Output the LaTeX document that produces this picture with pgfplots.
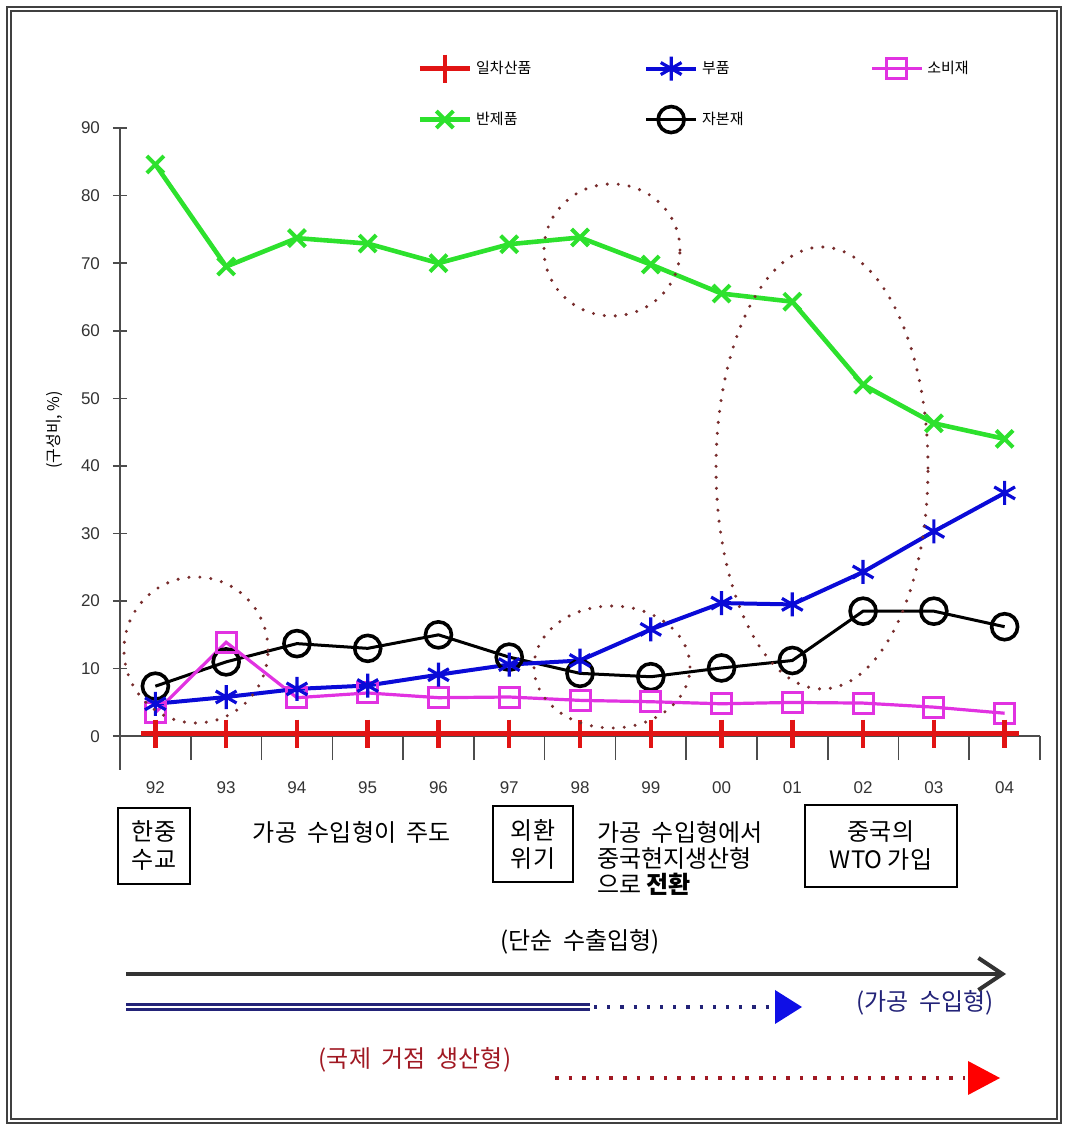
\documentclass[border=0pt]{standalone}
\usepackage{fontspec}
\setmainfont{Liberation Sans}
\newfontfamily\kr{Noto Sans CJK KR}
\usepackage{pgfplots}
\pgfplotsset{compat=1.18}
\usetikzlibrary{arrows.meta}

\definecolor{cred}{RGB}{225,20,20}
\definecolor{cblue}{RGB}{10,10,215}
\definecolor{cmag}{RGB}{225,50,225}
\definecolor{cgreen}{RGB}{45,225,45}
\definecolor{cring}{RGB}{120,45,45}
\definecolor{cnavy}{RGB}{35,35,120}
\definecolor{ctxtred}{RGB}{160,25,35}
\definecolor{cfill}{RGB}{15,15,230}

\pgfplotsset{
  primary/.style={color=cred, line width=2.2pt, mark=+, mark size=7pt, mark options={line width=2.2pt}},
  parts/.style={color=cblue, line width=2pt, mark=asterisk, mark size=6pt, mark options={line width=1.6pt}},
  consumer/.style={color=cmag, line width=1.6pt, mark=square, mark size=5pt, mark options={line width=1.5pt}},
  semi/.style={color=cgreen, line width=2.3pt, mark=x, mark size=6pt, mark options={line width=2pt}},
  capital/.style={color=black, line width=1.5pt, mark=o, mark size=6.5pt, mark options={line width=1.8pt}},
}

\begin{document}
\begin{tikzpicture}[x=0.5pt,y=0.5pt]
\useasboundingbox (0,0) rectangle (1067,1128);
% outer double frame
\draw[black!75, line width=0.7pt, double=white, double distance=1.3pt] (9,7) rectangle (1059,1119);

\begin{axis}[
  at={(60pt,179pt)}, anchor=south west,
  scale only axis, width=460pt, height=321pt,
  xmin=-0.5, xmax=12.5, ymin=-5, ymax=90,
  axis y line=left, axis x line=middle,
  axis line style={-, black!70, line width=0.8pt},
  xtick={0,...,12},
  xticklabels={92,93,94,95,96,97,98,99,00,01,02,03,04},
  major x tick style={draw=none},
  minor xtick={0.5,1.5,...,12.5},
  minor x tick style={black!70, line width=0.8pt},
  xtick align=outside,
  minor tick length=12pt,
  ytick={0,10,...,90},
  ytick align=center,
  major tick length=7pt,
  y tick style={black!70, line width=0.8pt},
  /pgf/number format/assume math mode=true,
  xticklabel style={font=\fontsize{8.5}{10}\selectfont, text=black!80, yshift=-12pt},
  yticklabel style={font=\fontsize{8.5}{10}\selectfont, text=black!80, xshift=-3pt},
  ylabel={\kr(구성비, \%)},
  ylabel style={font=\fontsize{8}{10}\selectfont, at={(axis description cs:-0.071,0.53)}, rotate=0, anchor=center},
  clip=false,
  legend columns=3,
  legend image code/.code={\draw[mark repeat=2, mark phase=2, #1] plot coordinates {(0pt,0pt) (12.5pt,0pt) (25pt,0pt)};},
  legend style={at={(0.323,1.115)}, anchor=north west, draw=none, fill=none,
    inner sep=0pt, row sep=12pt,
    font=\kr\fontsize{7.5}{9}\selectfont},
]
% legend order
\addlegendimage{primary}\addlegendentry{\makebox[82pt][l]{일차산품}}
\addlegendimage{parts}\addlegendentry{\makebox[82pt][l]{부품}}
\addlegendimage{consumer}\addlegendentry{\makebox[82pt][l]{소비재}}
\addlegendimage{semi}\addlegendentry{\makebox[82pt][l]{반제품}}
\addlegendimage{capital}\addlegendentry{\makebox[82pt][l]{자본재}}

% 자본재
\addplot[capital, forget plot] coordinates {
  (0,7.4) (1,11.0) (2,13.7) (3,13.0) (4,15.0) (5,11.7) (6,9.3)
  (7,8.8) (8,10.1) (9,11.2) (10,18.5) (11,18.5) (12,16.2)};
% 소비재
\addplot[consumer, forget plot] coordinates {
  (0,3.5) (1,13.9) (2,5.7) (3,6.4) (4,5.7) (5,5.8) (6,5.3)
  (7,5.1) (8,4.8) (9,5.0) (10,4.9) (11,4.3) (12,3.4)};
% 부품
\addplot[parts, forget plot] coordinates {
  (0,4.8) (1,5.8) (2,7.0) (3,7.5) (4,9.1) (5,10.6) (6,11.2)
  (7,15.8) (8,19.7) (9,19.5) (10,24.3) (11,30.3) (12,36.0)};
% 반제품
\addplot[semi, forget plot] coordinates {
  (0,84.6) (1,69.5) (2,73.7) (3,72.9) (4,70.0) (5,72.8) (6,73.8)
  (7,69.8) (8,65.5) (9,64.3) (10,52.0) (11,46.3) (12,44.0)};
% 일차산품
\addplot[primary, forget plot] coordinates {
  (0,0.4) (1,0.4) (2,0.4) (3,0.4) (4,0.4) (5,0.4) (6,0.4)
  (7,0.4) (8,0.4) (9,0.4) (10,0.4) (11,0.4) (12,0.4)};
\end{axis}

% dotted rings around the turning points
\begin{scope}[cring, line width=1.7pt, line cap=round, dash pattern=on 0pt off 5.5pt]
  \draw (196,478) ellipse [x radius=72, y radius=73];
  \draw (612,878) ellipse [x radius=68, y radius=66];
  \draw (822,660) ellipse [x radius=106, y radius=221];
  \draw (612,461) ellipse [x radius=78, y radius=61];
\end{scope}

% period notes under the axis
\begin{scope}[font=\kr\fontsize{12}{14}\selectfont]
  \node[draw, line width=0.9pt, align=center, minimum width=36pt, minimum height=38pt, inner sep=1pt] at (154,282) {한중\\수교};
  \node at (352,296) {가공\ \ 수입형이\ \ 주도};
  \node[draw, line width=0.9pt, align=center, minimum width=40pt, minimum height=38pt, inner sep=1pt] at (533,284) {외환\\위기};
  \node[align=left, anchor=west, font=\kr\fontsize{12}{13}\selectfont] at (590,270) {가공\ \ 수입형에서\\중국현지생산형\\으로 \textbf{전환}};
  \node[draw, line width=0.9pt, align=center, minimum width=76pt, minimum height=41pt, inner sep=1pt] at (881,282) {중국의\\WTO 가입};
  \node at (580,186) {(단순\ \ 수출입형)};
  \node[text=cnavy] at (925,125) {(가공\ \ 수입형)};
  \node[text=ctxtred] at (415,68) {(국제\ \ 거점\ \ 생산형)};
\end{scope}

% trade-type arrows
\draw[black!80, line width=1.6pt, -{Straight Barb[length=12pt, width=16pt, line width=2pt]}] (126,154) -- (1006,154);
\draw[cnavy, line width=1.5pt, double=white, double distance=1.2pt] (126,121) -- (590,121);
\draw[cnavy, line width=1.6pt, dash pattern=on 1.6pt off 5pt] (594,121) -- (772,121);
\fill[cfill] (775,138) -- (802,121) -- (775,104) -- cycle;
\draw[ctxtred, line width=1.8pt, dash pattern=on 1.8pt off 5pt] (555,50) -- (965,50);
\fill[red] (968,67) -- (1000,50) -- (968,33) -- cycle;
\end{tikzpicture}
\end{document}
